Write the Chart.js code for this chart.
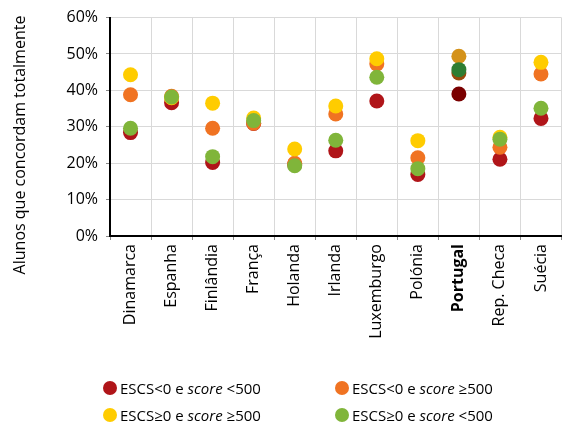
<!DOCTYPE html>
<html>
<head>
<meta charset="utf-8">
<script src="https://cdn.jsdelivr.net/npm/chart.js@4"></script>
<style>
    body { margin: 0; background: #fff; }
    .wrap { position: relative; width: 569px; height: 424px; }
    .legend { position: absolute; left: 0; top: 0; width: 569px; height: 424px; pointer-events: none;
        font-family: "Open Sans", sans-serif; font-size: 15px; color: #000; }
    .legend-item { position: absolute; display: flex; align-items: center; white-space: nowrap; }
    .legend-item .dot { width: 14px; height: 14px; border-radius: 50%; margin-right: 3px; }
    .titulo-y { position: absolute; left: 19px; top: 145px; transform: translate(-50%, -50%) rotate(-90deg);
        white-space: nowrap; font-family: "Open Sans", sans-serif; font-size: 16px; color: #000; }
</style>
</head>
<body>
<div class="wrap">
    <canvas id="grafico" width="569" height="424"></canvas>
    <div class="titulo-y">Alunos que concordam totalmente</div>
    <div class="legend" id="legenda"></div>
</div>
<script>
// Países
const paises = ['Dinamarca', 'Espanha', 'Finlândia', 'França', 'Holanda', 'Irlanda',
    'Luxemburgo', 'Polónia', 'Portugal', 'Rep. Checa', 'Suécia'];

// Percentagem de alunos que concordam totalmente
const baixoEscsBaixoScore = [28.4, 36.6, 20.2, 30.9, 19.6, 23.4, 37.1, 16.9, 39.0, 21.1, 32.3];
const baixoEscsAltoScore  = [38.8, 38.4, 29.6, 31.0, 20.0, 33.5, 47.3, 21.5, 44.8, 24.4, 44.5];
const altoEscsAltoScore   = [44.3, 38.0, 36.5, 32.4, 23.9, 35.7, 48.7, 26.2, 49.4, 27.1, 47.7];
const altoEscsBaixoScore  = [29.6, 38.2, 21.8, 31.7, 19.3, 26.3, 43.6, 18.5, 45.7, 26.6, 35.1];

const ticksY = [0, 10, 20, 30, 40, 50, 60];

const series = [
    { nome: ['ESCS<0 e ', 'score', ' <500'], dados: baixoEscsBaixoScore, cor: '#B01519', corPt: '#7A0000' },
    { nome: ['ESCS<0 e ', 'score', ' ≥500'], dados: baixoEscsAltoScore, cor: '#F07322', corPt: '#9A4A0C' },
    { nome: ['ESCS≥0 e ', 'score', ' ≥500'], dados: altoEscsAltoScore, cor: '#FFCC00', corPt: '#D4921A' },
    { nome: ['ESCS≥0 e ', 'score', ' <500'], dados: altoEscsBaixoScore, cor: '#80B53A', corPt: '#2E7D32' }
];

const fonte = '"Open Sans", sans-serif';
const idxPortugal = paises.indexOf('Portugal');

new Chart(document.getElementById('grafico'), {
    type: 'line',
    data: {
        labels: paises,
        datasets: series.map((s, i) => ({
            label: s.nome.join(''),
            data: s.dados,
            order: series.length - i, // a última série fica por cima
            showLine: false,
            pointRadius: 7.5,
            pointHoverRadius: 7.5,
            pointBorderWidth: 0,
            pointBackgroundColor: paises.map((p, j) => j === idxPortugal ? s.corPt : s.cor),
            borderColor: s.cor
        }))
    },
    options: {
        responsive: false,
        animation: false,
        layout: { padding: { top: 17, right: 2, left: 0, bottom: 0 } },
        plugins: { legend: { display: false }, tooltip: { enabled: false } },
        scales: {
            x: {
                offset: true,
                grid: { offset: true, color: '#d9d9d9', tickColor: '#888', tickLength: 4 },
                border: { color: '#000', width: 2 },
                ticks: {
                    maxRotation: 90, minRotation: 90, padding: 4, color: '#000',
                    font: ctx => ({ family: fonte, size: 16, weight: ctx.index === idxPortugal ? 'bold' : 'normal' })
                },
                afterFit: scale => { scale.height = 424 - 236; }
            },
            y: {
                min: 0, max: 60,
                afterBuildTicks: scale => { scale.ticks = ticksY.map(v => ({ value: v })); },
                grid: { color: '#d9d9d9', tickColor: '#888', tickLength: 4 },
                border: { color: '#000', width: 2 },
                ticks: {
                    color: '#000', padding: 8,
                    font: { family: fonte, size: 16 },
                    callback: v => v + '%'
                },
                afterFit: scale => { scale.width = 110; }
            }
        }
    }
});

// Legenda em HTML (2 colunas)
const posicoes = [[103, 389], [335, 389], [103, 416], [335, 416]];
const legenda = document.getElementById('legenda');
series.forEach((s, i) => {
    const item = document.createElement('div');
    item.className = 'legend-item';
    item.style.left = posicoes[i][0] + 'px';
    item.style.top = (posicoes[i][1] - 11) + 'px';
    item.innerHTML = `<span class="dot" style="background:${s.cor}"></span>` +
        `<span>${s.nome[0].replace('<', '&lt;')}<i>${s.nome[1]}</i>${s.nome[2].replace('<', '&lt;')}</span>`;
    legenda.appendChild(item);
});
</script>
</body>
</html>
